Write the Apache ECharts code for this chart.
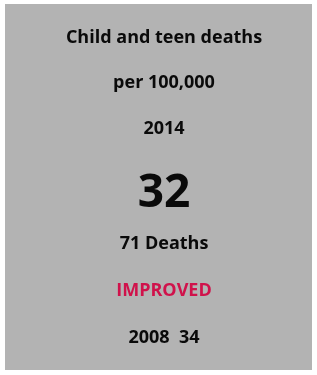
<!DOCTYPE html>
<html>
<head>
<meta charset="utf-8">
<script src="https://cdn.jsdelivr.net/npm/echarts@6/dist/echarts.min.js"></script>
<style>
  html, body { margin: 0; padding: 0; background: #fff; }
  #main { width: 317px; height: 375px; }
</style>
</head>
<body>
<div id="main"></div>
<script>
// card values
const titleLines = ['Child and teen deaths', 'per 100,000'];
const currentYear = ['2014'];
const currentRate = [32];
const deathCount = [71];
const trendLabel = ['IMPROVED'];
const baseYear = ['2008'];
const baseRate = [34];

const chart = echarts.init(document.getElementById('main'));

const font = '"Open Sans", "Noto Sans", sans-serif';
function line(text, y, size, color) {
    return {
        type: 'text',
        x: 164,
        y: y,
        style: {
            text: text,
            fill: color || '#0a0a0a',
            font: 'bold ' + size + 'px ' + font,
            align: 'center',
            verticalAlign: 'middle'
        }
    };
}

chart.setOption({
    backgroundColor: '#fff',
    graphic: [
        {
            type: 'rect',
            shape: { x: 5, y: 4, width: 307, height: 366 },
            style: { fill: '#b3b3b3' }
        },
        line(titleLines[0], 38, 18),
        line(titleLines[1], 83, 18),
        line(currentYear[0], 129, 18),
        line(String(currentRate[0]), 194, 46),
        line(deathCount[0] + ' Deaths', 244, 18),
        line(trendLabel[0], 291, 18, '#d0124b'),
        line(baseYear[0] + '  ' + baseRate[0], 338, 18)
    ]
});
</script>
</body>
</html>
